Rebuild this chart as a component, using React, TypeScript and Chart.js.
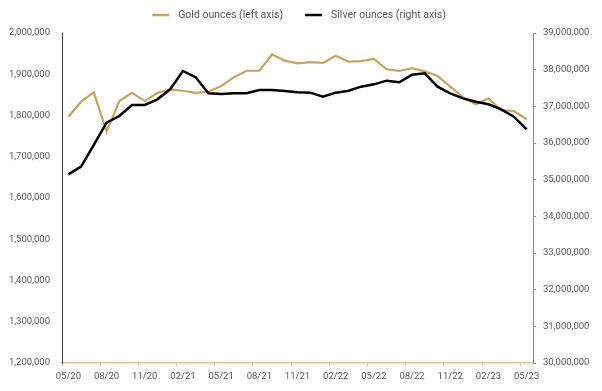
import React, { useEffect, useRef } from "react";
import { Chart, registerables } from "chart.js";

Chart.register(...registerables);

const months = [
  "05/20", "06/20", "07/20", "08/20", "09/20", "10/20", "11/20", "12/20",
  "01/21", "02/21", "03/21", "04/21", "05/21", "06/21", "07/21", "08/21",
  "09/21", "10/21", "11/21", "12/21", "01/22", "02/22", "03/22", "04/22",
  "05/22", "06/22", "07/22", "08/22", "09/22", "10/22", "11/22", "12/22",
  "01/23", "02/23", "03/23", "04/23", "05/23",
];

const goldOunces = [
  1797000, 1833500, 1856000, 1761000, 1835000, 1855000, 1835000, 1855000,
  1863500, 1860000, 1855000, 1857500, 1871500, 1892500, 1908500, 1908500,
  1948000, 1933000, 1926500, 1929500, 1927500, 1945000, 1930500, 1932000,
  1937000, 1912000, 1908000, 1915000, 1907000, 1896000, 1870000, 1844000,
  1827000, 1841000, 1813000, 1811000, 1791000,
];

const silverOunces = [
  35146000, 35354000, 35950000, 36554000, 36736000, 37036000, 37036000, 37191000,
  37464000, 37964000, 37792000, 37355000, 37336000, 37355000, 37355000, 37445000,
  37445000, 37418000, 37382000, 37373000, 37264000, 37373000, 37427000, 37536000,
  37600000, 37700000, 37655000, 37864000, 37900000, 37536000, 37355000, 37218000,
  37127000, 37055000, 36919000, 36718000, 36373000,
];

const goldLabel = "Gold ounces (left axis)";
const silverLabel = "Silver ounces (right axis)";

const FONT = "Roboto, 'Open Sans', sans-serif";
const GOLD = "#C8A55E";
const SILVER = "#000000";
const TEXT = "#595959";
const TAN = "#D9C79A";

const fmt = (v: number) => Number(v).toLocaleString("en-US");

const legendPlugin = {
  id: "topLegend",
  afterDraw(chart: any) {
    const ctx = chart.ctx;
    const items = chart.data.datasets.map((ds: any) => ({
      label: ds.label,
      color: ds.borderColor,
    }));
    ctx.save();
    ctx.font = `10.5px ${FONT}`;
    const lineLen = 17;
    const gapText = 9;
    const gapItem = 22;
    const widths = items.map(
      (it: any) => lineLen + gapText + ctx.measureText(it.label).width
    );
    const total =
      widths.reduce((a: number, b: number) => a + b, 0) +
      gapItem * (items.length - 1);
    let x = chart.width / 2 - 2 - total / 2;
    const y = 15;
    items.forEach((it: any, i: number) => {
      ctx.strokeStyle = it.color;
      ctx.lineWidth = 2.5;
      ctx.beginPath();
      ctx.moveTo(x, y);
      ctx.lineTo(x + lineLen, y);
      ctx.stroke();
      ctx.fillStyle = TEXT;
      ctx.textBaseline = "middle";
      ctx.textAlign = "left";
      ctx.fillText(it.label, x + lineLen + gapText, y + 0.5);
      x += widths[i] + gapItem;
    });
    ctx.restore();
  },
};

export default function App() {
  const ref = useRef<HTMLCanvasElement | null>(null);

  useEffect(() => {
    if (!ref.current) return;
    const tickFont = { family: FONT, size: 9.5 };
    const chart = new Chart(ref.current, {
      type: "line",
      data: {
        labels: months,
        datasets: [
          {
            label: goldLabel,
            data: goldOunces,
            borderColor: GOLD,
            backgroundColor: GOLD,
            borderWidth: 2.2,
            pointRadius: 0,
            tension: 0,
            yAxisID: "y",
            order: 1,
          },
          {
            label: silverLabel,
            data: silverOunces,
            borderColor: SILVER,
            backgroundColor: SILVER,
            borderWidth: 2.5,
            pointRadius: 0,
            tension: 0,
            yAxisID: "y1",
            order: 0,
          },
        ],
      },
      options: {
        responsive: false,
        animation: false,
        layout: { padding: { top: 33, left: 0, right: 0, bottom: 0 } },
        plugins: {
          legend: { display: false },
          tooltip: { enabled: false },
        },
        scales: {
          x: {
            type: "category",
            offset: true,
            grid: {
              offset: true,
              drawOnChartArea: false,
              drawTicks: true,
              tickLength: 3,
              tickColor: (c: any) =>
                c.index !== undefined && c.index % 3 === 0 ? TAN : "rgba(0,0,0,0)",
            },
            border: { color: TAN, width: 1.5 },
            ticks: {
              autoSkip: false,
              maxRotation: 0,
              minRotation: 0,
              padding: 5,
              color: TEXT,
              font: tickFont,
              callback: (_v: any, i: number) => (i % 3 === 0 ? months[i] : ""),
            },
            afterFit: (s: any) => {
              s.height = 28;
            },
          },
          y: {
            position: "left",
            min: 1200000,
            max: 2000000,
            grid: { drawOnChartArea: false, drawTicks: false },
            border: { color: "#404040", width: 1 },
            ticks: {
              stepSize: 100000,
              padding: 12,
              color: TEXT,
              font: tickFont,
              callback: (v: any) => fmt(v),
            },
            afterFit: (s: any) => {
              s.width = 62;
            },
          },
          y1: {
            position: "right",
            min: 30000000,
            max: 39000000,
            grid: {
              drawOnChartArea: false,
              drawTicks: true,
              tickLength: 3,
              tickColor: "#8C8C8C",
            },
            border: { color: "#8C8C8C", width: 1 },
            ticks: {
              stepSize: 1000000,
              padding: 7,
              color: TEXT,
              font: tickFont,
              callback: (v: any) => fmt(v),
            },
            afterFit: (s: any) => {
              s.width = 69;
            },
          },
        },
      },
      plugins: [legendPlugin],
    } as any);
    return () => chart.destroy();
  }, []);

  return (
    <div
      style={{
        position: "fixed",
        left: 0,
        top: 0,
        width: 602,
        height: 391,
        background: "#ffffff",
      }}
    >
      <canvas
        ref={ref}
        width={602}
        height={391}
        style={{ display: "block", width: 602, height: 391 }}
      />
    </div>
  );
}
